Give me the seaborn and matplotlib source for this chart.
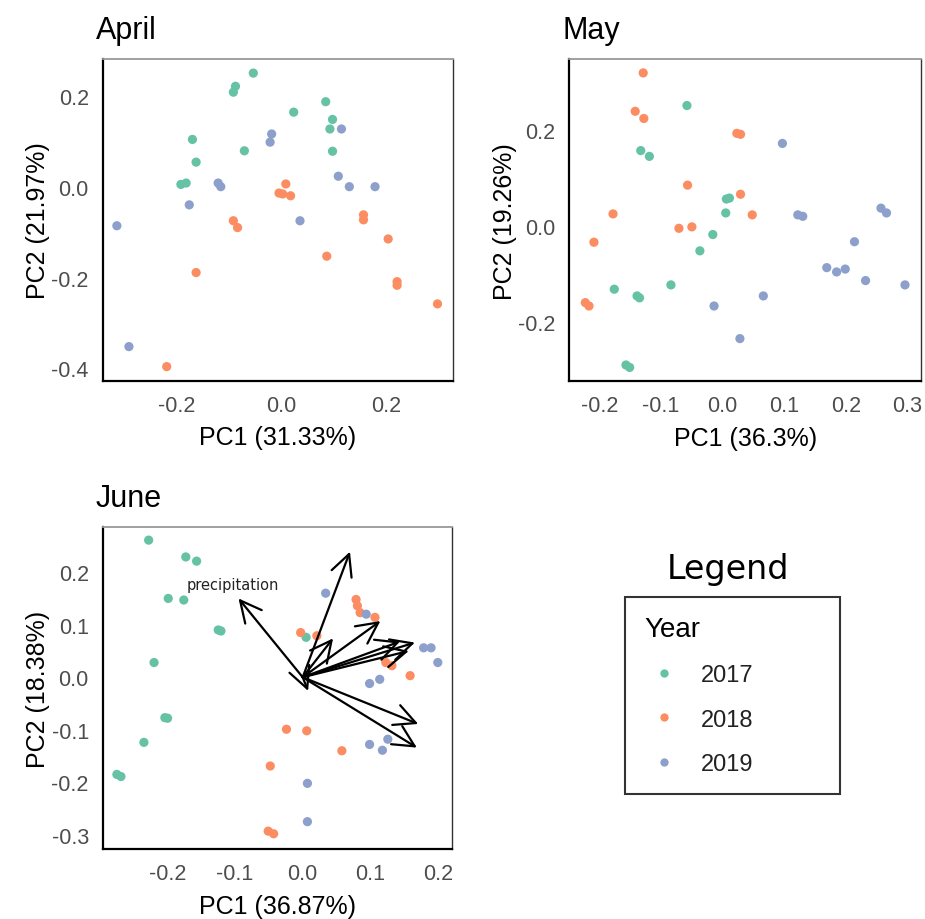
import matplotlib
matplotlib.use("Agg")
import matplotlib.pyplot as plt
import seaborn as sns
import pandas as pd

# --- data --------------------------------------------------------------
YEARS = ["2017", "2018", "2019"]
COLORS = ["#66C2A5", "#FC8D62", "#8DA0CB"]

APR_2017_PC1 = [-0.054, -0.088, -0.092, 0.084, 0.023, 0.097, 0.092, -0.170, -0.071, 0.097, -0.163, -0.192, -0.182]
APR_2017_PC2 = [0.250, 0.221, 0.208, 0.187, 0.164, 0.148, 0.127, 0.104, 0.079, 0.078, 0.054, 0.005, 0.008]
APR_2018_PC1 = [0.008, -0.005, 0.002, 0.017, -0.092, -0.084, 0.156, 0.156, 0.203, 0.086, -0.163, 0.220, 0.220, 0.297, -0.219]
APR_2018_PC2 = [0.006, -0.014, -0.016, -0.020, -0.075, -0.090, -0.062, -0.073, -0.115, -0.153, -0.189, -0.209, -0.217, -0.258, -0.396]
APR_2019_PC1 = [-0.019, -0.022, 0.114, 0.108, -0.121, -0.116, 0.129, 0.178, -0.176, 0.035, -0.314, -0.291]
APR_2019_PC2 = [0.116, 0.098, 0.127, 0.023, 0.008, 0.000, 0.000, 0.000, -0.040, -0.075, -0.086, -0.352]

MAY_2017_PC1 = [-0.058, -0.133, -0.119, 0.006, 0.011, 0.005, -0.016, -0.037, -0.084, -0.176, -0.139, -0.135, -0.157, -0.151]
MAY_2017_PC2 = [0.252, 0.158, 0.146, 0.057, 0.059, 0.028, -0.017, -0.051, -0.122, -0.131, -0.145, -0.149, -0.289, -0.294]
MAY_2018_PC1 = [-0.129, -0.142, -0.128, 0.023, 0.029, -0.057, 0.029, -0.178, 0.048, -0.071, -0.050, -0.209, -0.223, -0.217]
MAY_2018_PC2 = [0.320, 0.240, 0.225, 0.194, 0.192, 0.086, 0.067, 0.026, 0.024, -0.004, -0.001, -0.033, -0.159, -0.166]
MAY_2019_PC1 = [0.097, 0.122, 0.130, 0.257, 0.266, 0.214, 0.169, 0.185, 0.199, 0.232, 0.296, 0.066, -0.014, 0.028]
MAY_2019_PC2 = [0.173, 0.024, 0.021, 0.038, 0.028, -0.032, -0.086, -0.095, -0.089, -0.113, -0.122, -0.145, -0.166, -0.234]

JUN_2017_PC1 = [-0.228, -0.173, -0.157, -0.199, -0.176, -0.125, -0.121, -0.220, -0.204, -0.200, -0.235, -0.275, -0.269, 0.005]
JUN_2017_PC2 = [0.261, 0.229, 0.221, 0.150, 0.147, 0.090, 0.088, 0.028, -0.077, -0.078, -0.124, -0.185, -0.189, 0.076]
JUN_2018_PC1 = [-0.003, 0.021, 0.079, 0.081, 0.085, 0.107, 0.123, 0.132, 0.159, -0.024, 0.006, 0.058, -0.048, -0.051, -0.043]
JUN_2018_PC2 = [0.085, 0.079, 0.148, 0.136, 0.123, 0.114, 0.028, 0.022, 0.003, -0.099, -0.102, -0.140, -0.169, -0.293, -0.298]
JUN_2019_PC1 = [0.034, 0.094, 0.179, 0.190, 0.200, 0.099, 0.114, 0.099, 0.126, 0.118, 0.007, 0.007]
JUN_2019_PC2 = [0.160, 0.120, 0.056, 0.056, 0.028, -0.012, -0.004, -0.128, -0.118, -0.139, -0.202, -0.275]

# June loadings (biplot arrows), only the first one is labelled
JUN_LOAD_PC1 = [-0.095, 0.070, 0.045, 0.115, 0.166, 0.144, 0.157, 0.171, 0.169, 0.008]
JUN_LOAD_PC2 = [0.150, 0.239, 0.074, 0.107, 0.066, 0.068, 0.050, -0.089, -0.134, -0.026]
JUN_LOAD_LABELS = ["precipitation", "", "", "", "", "", "", "", "", ""]

PANELS = [
    ("April", "PC1 (31.33%)", "PC2 (21.97%)",
     [(APR_2017_PC1, APR_2017_PC2), (APR_2018_PC1, APR_2018_PC2), (APR_2019_PC1, APR_2019_PC2)]),
    ("May", "PC1 (36.3%)", "PC2 (19.26%)",
     [(MAY_2017_PC1, MAY_2017_PC2), (MAY_2018_PC1, MAY_2018_PC2), (MAY_2019_PC1, MAY_2019_PC2)]),
    ("June", "PC1 (36.87%)", "PC2 (18.38%)",
     [(JUN_2017_PC1, JUN_2017_PC2), (JUN_2018_PC1, JUN_2018_PC2), (JUN_2019_PC1, JUN_2019_PC2)]),
]

LIMITS = {
    "April": ((-0.341, 0.326), (-0.427, 0.281), [-0.2, 0.0, 0.2], [-0.4, -0.2, 0.0, 0.2]),
    "May": ((-0.249, 0.322), (-0.323, 0.349), [-0.2, -0.1, 0.0, 0.1, 0.2, 0.3], [-0.2, 0.0, 0.2]),
    "June": ((-0.296, 0.221), (-0.327, 0.286), [-0.2, -0.1, 0.0, 0.1, 0.2], [-0.3, -0.2, -0.1, 0.0, 0.1, 0.2]),
}

W, H = 925, 920
BOXES = {
    "April": (102.7, 60, 452.7, 381.7),
    "May": (569.3, 60, 921, 382.3),
    "June": (102.7, 528, 452, 850),
}


def to_frame(series):
    rows = []
    for year, (pc1, pc2) in zip(YEARS, series):
        for a, b in zip(pc1, pc2):
            rows.append({"PC1": a, "PC2": b, "Year": year})
    return pd.DataFrame(rows)


def style_axes(ax, title, xlabel, ylabel):
    xlim, ylim, xt, yt = LIMITS[title]
    ax.set_xlim(*xlim)
    ax.set_ylim(*ylim)
    ax.set_xticks(xt)
    ax.set_yticks(yt)
    ax.set_xticklabels([f"{v:.1f}" for v in xt])
    ax.set_yticklabels([f"{v:.1f}" for v in yt])
    ax.tick_params(colors="#333333", labelcolor="#4D4D4D", labelsize=15.5,
                   length=4, width=1.0, pad=6)
    ax.set_xlabel(xlabel, fontsize=18, labelpad=7, color="black")
    ax.set_ylabel(ylabel, fontsize=18, labelpad=1, color="black")
    ax.set_title(title, loc="left", fontsize=22, pad=15, x=-0.02, color="black")
    for side in ["left", "bottom"]:
        ax.spines[side].set_color("black")
        ax.spines[side].set_linewidth(1.6)
    ax.spines["top"].set_color("#999999")
    ax.spines["top"].set_linewidth(1.3)
    ax.spines["right"].set_color("#333333")
    ax.spines["right"].set_linewidth(1.0)


sns.set_theme(style="white")
plt.rcParams["font.family"] = ["Liberation Sans", "DejaVu Sans"]
plt.rcParams["axes.unicode_minus"] = False
plt.rcParams["text.color"] = "black"
plt.rcParams["axes.labelcolor"] = "black"

fig = plt.figure(figsize=(W / 100, H / 100), dpi=100)
palette = dict(zip(YEARS, COLORS))

handles, labels = None, None
for title, xlabel, ylabel, series in PANELS:
    x0, y0, x1, y1 = BOXES[title]
    ax = fig.add_axes([x0 / W, 1 - y1 / H, (x1 - x0) / W, (y1 - y0) / H])
    df = to_frame(series)
    sns.scatterplot(data=df, x="PC1", y="PC2", hue="Year", hue_order=YEARS,
                    palette=palette, s=44, linewidth=0, alpha=1.0, ax=ax,
                    legend=(title == "April"))
    if title == "April":
        handles, labels = ax.get_legend_handles_labels()
        ax.get_legend().remove()
    if title == "June":
        for lx, ly, name in zip(JUN_LOAD_PC1, JUN_LOAD_PC2, JUN_LOAD_LABELS):
            ax.annotate("", xy=(lx, ly), xytext=(0, 0),
                        arrowprops=dict(arrowstyle="->, head_length=0.9, head_width=0.45",
                                        color="black", lw=1.6, mutation_scale=17,
                                        shrinkA=0, shrinkB=0))
            if name:
                ax.text(lx - 0.009, ly + 0.027, name, fontsize=10.5,
                        family="DejaVu Sans", color="#222222",
                        ha="center", va="center")
    style_axes(ax, title, xlabel, ylabel)

# legend panel
fig.text(728 / W, 1 - 570 / H, "Legend", fontsize=24, family="DejaVu Sans",
         ha="center", va="center")
leg = fig.legend(handles, labels, title="Year", loc="upper left",
                 bbox_to_anchor=(625 / W, 1 - 799 / H, 215 / W, 201 / H),
                 mode="expand", borderaxespad=0, frameon=True, fancybox=False,
                 fontsize=17, title_fontsize=20, alignment="left",
                 handlelength=1.7, handletextpad=0.7, labelspacing=0.95,
                 borderpad=0.8, markerscale=0.9)
leg.get_frame().set_edgecolor("black")
leg.get_frame().set_linewidth(1.5)
for t in leg.get_texts():
    t.set_color("#222222")

fig.savefig("out.png", dpi=100)
